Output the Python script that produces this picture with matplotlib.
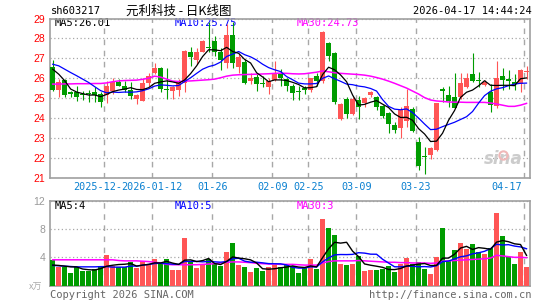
import matplotlib
matplotlib.use("Agg")
import matplotlib.pyplot as plt
import matplotlib.transforms as mtransforms

# daily candles, oldest first (one entry per trading day)
opens = [26.58, 25.42, 25.92, 25.32, 25.28, 25.20, 25.23, 25.30, 25.20, 25.15,
         25.33, 25.83, 25.62, 25.40, 24.95, 24.87, 25.78, 26.28, 26.53, 25.43,
         25.33, 25.40, 25.78, 27.33, 26.90, 27.33, 27.55, 27.87, 27.33, 26.78,
         28.17, 26.57, 26.83, 25.87, 26.08, 25.78, 25.53, 25.90, 26.20, 25.95,
         25.62, 25.35, 25.50, 25.40, 26.12, 25.87, 27.78, 27.28, 23.95, 24.95,
         24.20, 24.92, 24.73, 25.17, 25.07, 24.62, 24.23, 23.65, 23.48, 23.83,
         24.45, 22.77, 22.05, 22.12, 22.40, 25.45, 25.17, 25.07, 25.07, 25.53,
         26.20, 25.92, 25.65, 25.30, 24.60, 26.10, 25.95, 25.80, 25.70, 26.30]
highs = [26.90, 25.95, 25.95, 25.35, 25.60, 25.33, 25.40, 25.53, 25.28, 25.87,
         26.00, 25.95, 25.87, 25.83, 25.20, 26.00, 26.28, 26.77, 26.57, 26.53,
         25.60, 25.95, 27.40, 27.57, 27.50, 27.90, 28.80, 28.10, 27.53, 28.70,
         28.80, 27.20, 26.95, 26.28, 26.20, 26.10, 26.03, 26.87, 26.45, 26.03,
         25.70, 25.62, 25.62, 26.03, 26.28, 28.35, 27.80, 27.30, 24.75, 25.03,
         25.05, 25.10, 25.03, 25.33, 25.12, 24.67, 24.28, 23.78, 24.53, 25.45,
         24.53, 23.03, 22.53, 22.53, 24.73, 25.53, 25.62, 26.28, 26.28, 26.28,
         27.28, 26.30, 25.90, 25.70, 26.85, 26.50, 26.40, 26.20, 26.45, 26.60]
lows = [25.33, 25.03, 25.03, 25.05, 24.83, 24.90, 24.80, 24.80, 24.53, 24.73,
        25.20, 25.58, 25.28, 24.95, 24.70, 24.83, 25.62, 26.20, 25.28, 24.95,
        24.95, 25.10, 25.28, 26.60, 26.70, 27.30, 27.30, 27.10, 26.40, 26.53,
        26.53, 26.28, 25.70, 25.70, 25.37, 25.53, 25.20, 25.87, 25.62, 25.37,
        24.90, 24.90, 25.22, 25.32, 25.62, 25.78, 26.87, 24.70, 23.90, 24.00,
        24.15, 23.95, 24.53, 25.03, 24.40, 24.00, 23.23, 23.23, 23.00, 23.53,
        23.28, 21.37, 21.17, 21.95, 22.33, 24.78, 24.57, 24.50, 24.95, 25.50,
        25.83, 25.55, 25.60, 24.28, 24.50, 25.40, 25.45, 25.40, 25.30, 25.95]
closes = [25.42, 25.83, 25.15, 25.20, 25.03, 25.15, 25.20, 25.17, 24.78, 25.62,
          25.83, 25.62, 25.40, 25.12, 25.17, 25.78, 26.12, 26.53, 25.45, 25.40,
          25.53, 25.80, 27.37, 27.07, 27.32, 27.87, 27.50, 27.33, 26.90, 28.17,
          26.78, 27.07, 25.78, 26.00, 25.73, 25.70, 25.87, 26.23, 26.00, 25.62,
          25.23, 25.30, 25.40, 26.03, 25.87, 28.32, 27.12, 24.78, 24.70, 24.20,
          24.95, 24.57, 24.98, 25.28, 24.57, 24.07, 23.70, 23.37, 24.40, 24.62,
          23.33, 21.57, 22.03, 22.48, 24.73, 25.33, 24.83, 24.50, 25.78, 26.03,
          25.87, 25.85, 25.80, 24.65, 26.00, 25.90, 25.85, 25.72, 26.40, 26.35]
volumes = [3.6, 2.6, 2.6, 1.8, 2.6, 2.1, 2.1, 2.4, 2.8, 4.3,
           2.8, 2.6, 2.6, 3.3, 2.5, 3.5, 3.1, 3.7, 3.2, 3.7,
           2.2, 2.2, 6.7, 3.4, 2.5, 2.9, 3.7, 3.1, 2.7, 4.7,
           6.1, 2.9, 2.6, 1.9, 2.5, 2.0, 2.6, 2.9, 2.6, 3.0,
           2.8, 1.8, 2.6, 3.7, 2.3, 9.4, 8.1, 7.2, 3.1, 2.9,
           3.1, 4.2, 2.0, 2.2, 2.2, 2.3, 2.7, 1.9, 3.0, 3.9,
           3.0, 3.4, 2.3, 1.6, 4.0, 8.1, 3.5, 5.0, 6.0, 5.2,
           5.9, 4.8, 4.5, 5.3, 10.3, 7.0, 4.0, 3.0, 4.8, 2.6]

# moving averages as shown on the chart
ma5 = [26.45, 26.20, 25.87, 25.45, 25.30, 25.22, 25.15, 25.15, 25.07, 25.18,
       25.32, 25.40, 25.45, 25.52, 25.43, 25.42, 25.52, 25.74, 25.81, 25.86,
       25.81, 25.74, 25.91, 26.23, 26.62, 27.09, 27.43, 27.42, 27.38, 27.55,
       27.34, 27.25, 26.94, 26.76, 26.27, 26.06, 25.82, 25.91, 25.91, 25.88,
       25.79, 25.68, 25.51, 25.52, 25.57, 26.18, 26.55, 26.42, 26.16, 25.82,
       25.15, 24.64, 24.68, 24.79, 24.87, 24.69, 24.52, 24.20, 24.02, 24.03,
       23.88, 23.46, 23.19, 22.81, 22.83, 23.23, 23.88, 24.37, 25.03, 25.29,
       25.40, 25.61, 25.87, 25.64, 25.63, 25.64, 25.64, 25.62, 25.97, 26.01]
ma10 = [26.70, 26.62, 26.45, 26.28, 26.12, 25.95, 25.78, 25.57, 25.37, 25.26,
        25.30, 25.28, 25.30, 25.29, 25.31, 25.37, 25.46, 25.60, 25.66, 25.64,
        25.61, 25.63, 25.83, 26.02, 26.24, 26.45, 26.58, 26.66, 26.81, 27.09,
        27.21, 27.34, 27.18, 27.07, 26.91, 26.70, 26.53, 26.42, 26.33, 26.08,
        25.92, 25.75, 25.71, 25.71, 25.73, 25.99, 26.11, 25.97, 25.84, 25.70,
        25.67, 25.60, 25.56, 25.48, 25.35, 24.92, 24.58, 24.44, 24.41, 24.45,
        24.27, 23.99, 23.69, 23.41, 23.43, 23.56, 23.67, 23.78, 23.92, 24.06,
        24.32, 24.74, 25.12, 25.34, 25.46, 25.52, 25.62, 25.70, 25.74, 25.75]
ma30 = [25.70, 25.70, 25.71, 25.71, 25.72, 25.72, 25.72, 25.73, 25.73, 25.76,
        25.82, 25.86, 25.88, 25.89, 25.90, 25.94, 26.00, 26.10, 26.05, 25.95,
        25.85, 25.83, 25.85, 25.86, 25.88, 25.90, 25.92, 25.95, 26.02, 26.10,
        26.15, 26.17, 26.18, 26.19, 26.20, 26.21, 26.22, 26.24, 26.25, 26.24,
        26.22, 26.21, 26.22, 26.26, 26.30, 26.36, 26.32, 26.27, 26.24, 26.22,
        26.20, 26.18, 26.15, 26.10, 26.03, 25.95, 25.85, 25.74, 25.62, 25.50,
        25.35, 25.20, 25.02, 24.90, 24.85, 24.83, 24.80, 24.79, 24.79, 24.78,
        24.78, 24.78, 24.78, 24.75, 24.70, 24.64, 24.58, 24.58, 24.64, 24.73]
vol_ma5 = [2.90, 2.85, 2.75, 2.65, 2.64, 2.34, 2.24, 2.20, 2.40, 2.74,
           2.88, 2.98, 3.02, 3.12, 2.76, 2.90, 3.00, 3.22, 3.20, 3.44,
           3.18, 3.00, 3.60, 3.64, 3.40, 3.54, 3.84, 3.12, 2.98, 3.42,
           4.06, 3.90, 3.80, 3.64, 3.20, 2.38, 2.32, 2.38, 2.52, 2.62,
           2.78, 2.62, 2.56, 2.78, 2.64, 3.96, 5.22, 6.14, 6.02, 6.14,
           4.88, 4.10, 3.06, 2.88, 2.74, 2.58, 2.28, 2.26, 2.42, 2.76,
           2.90, 3.04, 3.12, 2.84, 2.86, 3.88, 3.90, 4.44, 5.32, 5.56,
           5.12, 5.38, 5.28, 5.14, 6.16, 6.38, 6.22, 5.92, 5.82, 4.28]
vol_ma10 = [2.85, 2.80, 2.75, 2.70, 2.65, 2.65, 2.65, 2.65, 2.68, 2.69,
            2.61, 2.61, 2.61, 2.76, 2.75, 2.89, 2.99, 3.12, 3.16, 3.10,
            3.04, 3.00, 3.41, 3.42, 3.42, 3.36, 3.42, 3.36, 3.31, 3.41,
            3.80, 3.87, 3.46, 3.31, 3.31, 3.22, 3.11, 3.09, 3.08, 2.91,
            2.58, 2.47, 2.47, 2.65, 2.63, 3.37, 3.92, 4.35, 4.40, 4.39,
            4.42, 4.66, 4.60, 4.45, 4.44, 3.73, 3.19, 2.66, 2.65, 2.75,
            2.74, 2.66, 2.69, 2.63, 2.81, 3.39, 3.47, 3.78, 4.08, 4.21,
            4.50, 4.64, 4.86, 5.23, 5.86, 5.75, 5.80, 5.60, 5.48, 5.22]
vol_ma30 = [3.65, 3.65, 3.65, 3.65, 3.65, 3.65, 3.65, 3.65, 3.65, 3.65,
            3.65, 3.55, 3.50, 3.50, 3.50, 3.45, 3.40, 3.30, 3.20, 3.00,
            2.95, 2.95, 2.95, 2.95, 2.95, 3.00, 3.05, 3.10, 3.20, 3.30,
            3.35, 3.35, 3.30, 3.25, 3.15, 3.10, 3.05, 3.05, 3.00, 3.00,
            3.00, 2.95, 2.90, 2.90, 2.90, 3.20, 3.40, 3.50, 3.50, 3.50,
            3.50, 3.55, 3.50, 3.45, 3.40, 3.35, 3.30, 3.30, 3.25, 3.25,
            3.20, 3.20, 3.20, 3.15, 3.20, 3.45, 3.50, 3.55, 3.60, 3.65,
            3.70, 3.75, 3.80, 3.90, 4.30, 4.20, 4.10, 4.00, 4.00, 3.95]

date_labels = ['2025-12-29', '2026-01-12', '01-26', '02-09', '02-25', '03-09', '03-23', '04-17']
date_index = [9, 17, 27, 37, 43, 51, 61, 79]
price_ticks = [21, 22, 23, 24, 25, 26, 27, 28, 29]
vol_ticks = [4, 8, 12]

RED = '#ff5555'
GREEN = '#009c00'
GRID = '#a8a8a8'
BORDER = '#a0a0a0'
MONO = 'DejaVu Sans Mono'
CJK = ['Noto Sans CJK SC', 'DejaVu Sans']

fig = plt.figure(figsize=(5.45, 3.0), dpi=100)
ax = fig.add_axes([0.0923, 0.4083, 0.8793, 0.53])
axv = fig.add_axes([0.0923, 0.0483, 0.8793, 0.2817])

x = list(range(len(closes)))
colors = [RED if c >= o else GREEN for o, c in zip(opens, closes)]

# candles
ax.vlines(x, lows, highs, colors=colors, linewidth=0.8, zorder=3)
bottoms = [min(o, c) for o, c in zip(opens, closes)]
heights = [max(abs(c - o), 0.05) for o, c in zip(opens, closes)]
ax.bar(x, heights, bottom=bottoms, width=0.78, color=colors, linewidth=0, zorder=4)
ax.plot(x, ma30, color='#ff00ff', lw=1.1, zorder=5)
ax.plot(x, ma10, color='#0000ff', lw=0.9, zorder=6)
ax.plot(x, ma5, color='black', lw=0.9, zorder=7)

# volume
axv.bar(x, volumes, width=0.82, color=colors, linewidth=0, zorder=3)
axv.plot(x, vol_ma30, color='#ff00ff', lw=1.1, zorder=4)
axv.plot(x, vol_ma10, color='#0000ff', lw=1.0, zorder=5)
axv.plot(x, vol_ma5, color='black', lw=1.0, zorder=6)

for a in (ax, axv):
    a.set_xlim(-0.4, len(closes) - 0.5)
    a.set_xticks([])
    for s in a.spines.values():
        s.set_color(BORDER)
        s.set_linewidth(1.2)
    for idx in date_index:
        a.axvline(idx - 0.4, color=GRID, lw=1.0, ls=(0, (4, 4)), zorder=1)
    a.grid(axis='y', color=GRID, lw=0.9, ls=(0, (1, 2)), zorder=1)
    a.set_axisbelow(True)

ax.set_ylim(price_ticks[0], price_ticks[-1])
ax.set_yticks(price_ticks)
ax.set_yticklabels([str(t) for t in price_ticks], fontfamily='Liberation Sans')
ax.tick_params(axis='y', length=0, pad=3.5, labelcolor='red', labelsize=7.5)

axv.set_ylim(0, 12)
axv.set_yticks(vol_ticks)
axv.set_yticklabels([str(t) for t in vol_ticks], fontfamily='Liberation Sans')
axv.tick_params(axis='y', length=0, pad=3.5, labelcolor='#999999', labelsize=7.5)

# date labels under the price panel
trans = mtransforms.blended_transform_factory(ax.transData, ax.transAxes)
for i, (lab, idx) in enumerate(zip(date_labels, date_index)):
    last = i == len(date_labels) - 1
    ax.text(idx - (0.7 if last else 0.4), -0.057, lab, transform=trans,
            ha='right' if last else 'center', va='center', fontsize=7.3,
            family=MONO, color='#0a80d0',
            bbox=dict(facecolor='white', edgecolor='none', pad=0))

# moving average captions
ax.text(0.008, 0.972, 'MA5:26.01', transform=ax.transAxes, va='center',
        fontsize=7.5, family=MONO, color='black', zorder=2)
ax.text(0.26, 0.972, 'MA10:25.75', transform=ax.transAxes, va='center',
        fontsize=7.5, family=MONO, color='#0000ff', zorder=2)
ax.text(0.514, 0.972, 'MA30:24.73', transform=ax.transAxes, va='center',
        fontsize=7.5, family=MONO, color='#ff00ff', zorder=2)
axv.text(0.008, 0.935, 'MA5:4', transform=axv.transAxes, va='center',
         fontsize=7.5, family=MONO, color='black')
axv.text(0.26, 0.935, 'MA10:5', transform=axv.transAxes, va='center',
         fontsize=7.5, family=MONO, color='#0000ff')
axv.text(0.514, 0.935, 'MA30:3', transform=axv.transAxes, va='center',
         fontsize=7.5, family=MONO, color='#ff00ff')

# sina watermark
ax.text(0.985, 0.06, 'sina', transform=ax.transAxes, ha='right', va='bottom',
        fontsize=12, fontweight='bold', style='italic', color='#cccccc', zorder=2)
ax.plot([0.945], [0.14], transform=ax.transAxes, marker='o', ms=6,
        mfc='none', mec='#f0b8b8', mew=1.5, zorder=2)

# header and footer
fig.text(0.093, 0.963, 'sh603217', ha='left', va='center', fontsize=7.5, family=MONO)
fig.text(0.328, 0.963, '元利科技 - 日K线图', ha='center', va='center',
         fontsize=9, family=CJK)
fig.text(0.976, 0.962, '2026-04-17 14:44:24', ha='right', va='center',
         fontsize=7.5, family=MONO)
fig.text(0.092, 0.018, 'Copyright 2026 SINA.COM', ha='left', va='center',
         fontsize=7.5, family=MONO, color='#666666')
fig.text(0.976, 0.018, 'http://finance.sina.com.cn', ha='right', va='center',
         fontsize=7.5, family=MONO, color='#666666')
fig.text(0.053, 0.043, 'x万', ha='left', va='center', fontsize=6.5,
         family=CJK, color='#aaaaaa')

fig.savefig('out.png', dpi=100, facecolor='white')
